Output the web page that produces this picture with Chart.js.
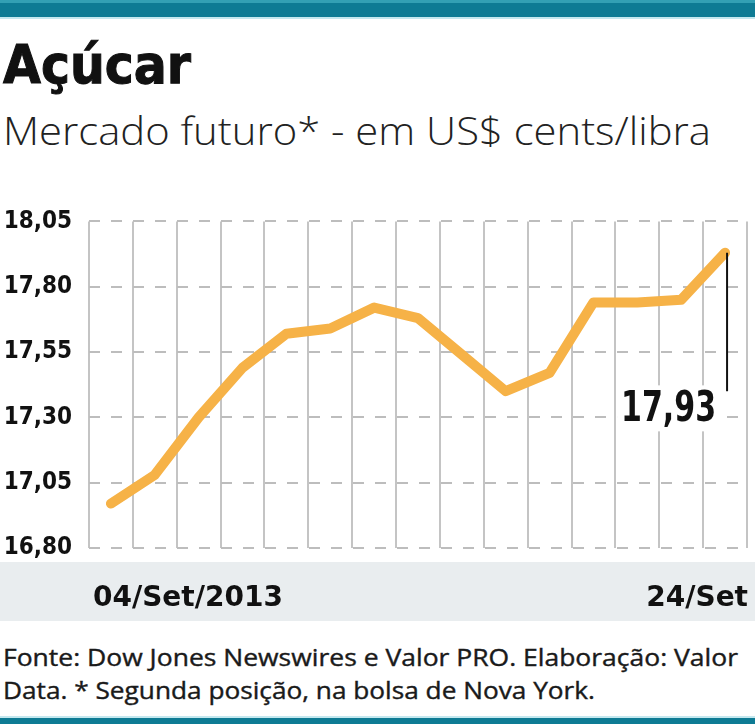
<!DOCTYPE html>
<html>
<head>
<meta charset="utf-8">
<script src="https://cdn.jsdelivr.net/npm/chart.js@4.4.1/dist/chart.umd.min.js"></script>
<style>
  body { margin: 0; width: 755px; height: 724px; position: relative; overflow: hidden; background: #fff; }
  #deco { position: absolute; left: 0; top: 0; }
  #wrap { position: absolute; left: 0; top: 190px; width: 755px; height: 440px; }
</style>
</head>
<body>
<svg id="deco" width="755" height="724">
  <rect x="0" y="0" width="755" height="17" fill="#0e7b94"/>
  <rect x="0" y="0" width="755" height="3" fill="#33a0b4"/>
  <rect x="0" y="17" width="755" height="2" fill="#c4e8ef"/>
  <rect x="0" y="562" width="755" height="59" fill="#e9edef"/>
  <rect x="0" y="716" width="755" height="2" fill="#c4e8ef"/>
  <rect x="0" y="718" width="755" height="6" fill="#0e7b94"/>
  <text x="3" y="83" font-family="DejaVu Sans Condensed, DejaVu Sans" font-weight="bold" font-size="53"
        fill="#111" stroke="#111" stroke-width="1" textLength="188" lengthAdjust="spacingAndGlyphs">Açúcar</text>
  <text x="3" y="145" font-family="Open Sans, Liberation Sans" font-weight="300" font-size="39"
        fill="#222" textLength="708" lengthAdjust="spacingAndGlyphs">Mercado futuro* - em US$ cents/libra</text>
  <text x="3" y="666" font-family="Open Sans, Liberation Sans" font-weight="normal" font-size="24"
        fill="#1a1a1a" stroke="#1a1a1a" stroke-width="0.4" textLength="735" lengthAdjust="spacingAndGlyphs">Fonte: Dow Jones Newswires e Valor PRO. Elaboração: Valor</text>
  <text x="3" y="699" font-family="Open Sans, Liberation Sans" font-weight="normal" font-size="24"
        fill="#1a1a1a" stroke="#1a1a1a" stroke-width="0.4" textLength="592" lengthAdjust="spacingAndGlyphs">Data. * Segunda posição, na bolsa de Nova York.</text>
</svg>
<div id="wrap"><canvas id="lineChart" width="755" height="440"></canvas></div>
<script>
// pregões de setembro/2013
let dates = ['04/Set', '05/Set', '06/Set', '09/Set', '10/Set', '11/Set', '12/Set', '13/Set',
             '16/Set', '17/Set', '18/Set', '19/Set', '20/Set', '23/Set', '24/Set'];
let prices = [16.97, 17.08, 17.30, 17.49, 17.62, 17.64, 17.72, 17.68,
              17.54, 17.40, 17.47, 17.74, 17.74, 17.75, 17.93];
let yTicks = [16.80, 17.05, 17.30, 17.55, 17.80, 18.05];
let xTickLabels = ['04/Set/2013', '24/Set'];

function fmt(v) {
    return v.toFixed(2).replace('.', ',');
}

// first and last date under the plot, on the grey band
let dateLabels = {
    id: 'dateLabels',
    afterDraw(chart) {
        let ctx = chart.ctx;
        let x = chart.scales.x;
        let area = chart.chartArea;
        let base = x.top + 58;
        ctx.save();
        ctx.fillStyle = '#111';
        ctx.font = 'bold 28px "DejaVu Sans"';
        ctx.textBaseline = 'alphabetic';
        ctx.textAlign = 'left';
        ctx.fillText(xTickLabels[0], area.left + 4, base);
        ctx.textAlign = 'right';
        ctx.fillText(xTickLabels[1], area.right + 1, base);
        ctx.restore();
    }
};

// callout for the last value
let lastValue = {
    id: 'lastValue',
    afterDraw(chart) {
        let ctx = chart.ctx;
        let y = chart.scales.y;
        let pts = chart.getDatasetMeta(0).data;
        let p = pts[pts.length - 1];
        let text = fmt(prices[prices.length - 1]);
        let right = p.x - 9;
        let base = y.getPixelForValue(17.30) + 4;

        ctx.save();
        ctx.font = 'bold 43px "Liberation Sans Narrow", "DejaVu Sans Condensed"';
        let w = ctx.measureText(text).width;
        let sx = 95 / w;
        ctx.fillStyle = '#fff';
        ctx.fillRect(right - 99, base - 36, 103, 46);
        ctx.translate(right, base);
        ctx.scale(sx, 1);
        ctx.fillStyle = '#111';
        ctx.textAlign = 'right';
        ctx.textBaseline = 'alphabetic';
        ctx.fillText(text, 0, 0);
        ctx.restore();

        ctx.save();
        ctx.strokeStyle = '#111';
        ctx.lineWidth = 2;
        ctx.beginPath();
        ctx.moveTo(p.x + 2, p.y);
        ctx.lineTo(p.x + 2, y.getPixelForValue(17.40));
        ctx.stroke();
        ctx.restore();
    }
};

let ctx = document.getElementById('lineChart').getContext('2d');

let lineChart = new Chart(ctx, {
    type: 'line',
    data: {
        labels: dates,
        datasets: [
            {
                label: 'Açúcar',
                data: prices,
                borderColor: '#f6b247',
                borderWidth: 10,
                borderCapStyle: 'round',
                borderJoinStyle: 'round',
                pointRadius: 0,
                tension: 0
            }
        ]
    },
    options: {
        responsive: false,
        animation: false,
        layout: {
            padding: { top: 23, right: 8, left: 0, bottom: 0 }
        },
        plugins: {
            legend: { display: false },
            tooltip: { enabled: false }
        },
        scales: {
            x: {
                offset: true,
                grid: {
                    offset: true,
                    color: '#c4c4c4',
                    lineWidth: 2,
                    drawTicks: false
                },
                border: { display: false },
                ticks: { display: false },
                afterFit(scale) { scale.height = 82; }
            },
            y: {
                min: 16.80,
                max: 18.05,
                afterBuildTicks(scale) {
                    scale.ticks = yTicks.map(v => ({ value: v }));
                },
                grid: {
                    color: '#bdbdbd',
                    lineWidth: 2,
                    drawTicks: false
                },
                border: { display: false, dash: [11, 11] },
                ticks: {
                    padding: 17,
                    color: '#111',
                    font: { family: '"DejaVu Sans Condensed", "DejaVu Sans"', weight: 'bold', size: 24 },
                    callback: v => fmt(v)
                },
                afterFit(scale) { scale.width = 89; }
            }
        }
    },
    plugins: [dateLabels, lastValue]
});
</script>
</body>
</html>
